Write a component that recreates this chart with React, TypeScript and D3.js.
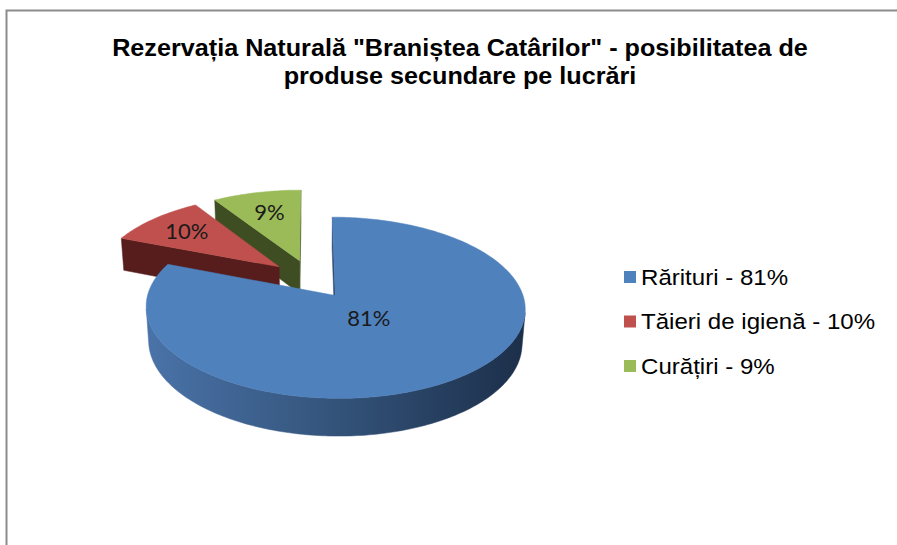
import React from 'react';
import * as d3 from 'd3';

// ---------- data ----------
const categories = ['Rărituri', 'Tăieri de igienă', 'Curățiri'];
const values = [81, 10, 9];
const valueLabels = ['81%', '10%', '9%'];
const legendLabels = ['Rărituri - 81%', 'Tăieri de igienă - 10%', 'Curățiri - 9%'];
const titleLines = [
  'Rezervația Naturală "Braniștea Catârilor" - posibilitatea de',
  'produse secundare pe lucrări',
];

// ---------- style ----------
const W = 897;
const H = 545;
const topColors = ['#4F81BD', '#C0504D', '#9BBB59'];
const cutColors = ['#2d4a74', '#561d1c', '#3f4e22'];
const wallStops = [
  ['#4a73a9', '#36577f', '#1c2f4a'],
  ['#8a3836', '#6a2624', '#4a1817'],
  ['#6f8740', '#56692f', '#3a4720'],
];
const labelRadius = [0.3, 0.72, 0.68];

// 3D projection parameters (unit radius pie)
const cx = 311;
const cy = 279;
const f = 1230;
const D = 6.72;
const elev = (27.5 * Math.PI) / 180;
const sE = Math.sin(elev);
const cE = Math.cos(elev);
const thick = 0.21;
const explode = 0.23;

function project(X: number, Y: number, Z: number): [number, number, number] {
  const yc = Y * cE + Z * sE;
  const dep = Z * cE - Y * sE;
  const w = f / (D + dep);
  return [cx + X * w, cy - yc * w, dep];
}
const cam = [0, D * sE, -D * cE];

export default function App() {
  const pie = d3
    .pie<number>()
    .sort(null)
    .value((d) => d)
    .startAngle(0)
    .endAngle(2 * Math.PI);
  const arcs = pie(values);

  type Poly = { d: string; fill: string; depth: number };
  const walls: Poly[] = [];
  const tops: Poly[] = [];
  const labels: { x: number; y: number; t: string }[] = [];

  const line = d3.line();

  arcs.forEach((a, i) => {
    const mid = (a.startAngle + a.endAngle) / 2;
    const ox = explode * Math.sin(mid);
    const oz = explode * Math.cos(mid);
    const rim = (t: number, Y: number) => project(ox + Math.sin(t), Y, oz + Math.cos(t));
    const apex = (Y: number) => project(ox, Y, oz);
    const n = Math.max(4, Math.ceil(((a.endAngle - a.startAngle) * 180) / Math.PI));
    const ts = d3.range(n + 1).map((j) => a.startAngle + ((a.endAngle - a.startAngle) * j) / n);

    // top face
    const topPts = [apex(0), ...ts.map((t) => rim(t, 0))];
    tops.push({
      d: line(topPts.map((p) => [p[0], p[1]]))! + 'Z',
      fill: topColors[i],
      depth: d3.mean(topPts, (p) => p[2])!,
    });

    // outer wall: visible runs
    let run: number[] = [];
    const flush = () => {
      if (run.length > 1) {
        const up = run.map((t) => rim(t, 0));
        const dn = run.map((t) => rim(t, -thick)).reverse();
        const pts = [...up, ...dn];
        walls.push({
          d: line(pts.map((p) => [p[0], p[1]]))! + 'Z',
          fill: `url(#wall${i})`,
          depth: d3.mean(pts, (p) => p[2])!,
        });
      }
      run = [];
    };
    for (let j = 0; j < n; j++) {
      const tm = (ts[j] + ts[j + 1]) / 2;
      const px = ox + Math.sin(tm);
      const pz = oz + Math.cos(tm);
      const dot = Math.sin(tm) * (cam[0] - px) + Math.cos(tm) * (cam[2] - pz);
      if (dot > 0) {
        if (run.length === 0) run.push(ts[j]);
        run.push(ts[j + 1]);
      } else flush();
    }
    flush();

    // radial cut faces
    const cut = (t: number, sign: number) => {
      const nx = sign * Math.cos(t);
      const nz = -sign * Math.sin(t);
      const px = ox + 0.5 * Math.sin(t);
      const pz = oz + 0.5 * Math.cos(t);
      const dot = nx * (cam[0] - px) + nz * (cam[2] - pz);
      if (dot <= 0) return;
      const pts = [apex(0), rim(t, 0), rim(t, -thick), apex(-thick)];
      walls.push({
        d: line(pts.map((p) => [p[0], p[1]]))! + 'Z',
        fill: cutColors[i],
        depth: d3.mean(pts, (p) => p[2])!,
      });
    };
    cut(a.startAngle, -1);
    cut(a.endAngle, 1);

    const lr = labelRadius[i];
    const lp = project(ox + lr * Math.sin(mid), 0, oz + lr * Math.cos(mid));
    labels.push({ x: lp[0], y: lp[1], t: valueLabels[i] });
  });

  walls.sort((p, q) => q.depth - p.depth);
  tops.sort((p, q) => q.depth - p.depth);

  const legendY = d3.scalePoint<string>().domain(categories).range([277, 366]);

  return (
    <svg width={W} height={H} style={{ position: 'absolute', left: 0, top: 0, background: '#fff' }}>
      <defs>
        {wallStops.map((st, i) => (
          <linearGradient key={i} id={`wall${i}`} gradientUnits="userSpaceOnUse" x1={145} x2={525} y1={0} y2={0}>
            <stop offset="0" stopColor={st[0]} />
            <stop offset="0.45" stopColor={st[1]} />
            <stop offset="1" stopColor={st[2]} />
          </linearGradient>
        ))}
      </defs>
      <rect x={0} y={0} width={W} height={H} fill="#fff" />
      <path d={`M6.5,${H} V10.5 H${W}`} fill="none" stroke="#8c8c8c" strokeWidth={2} />

      {titleLines.map((t, i) => (
        <text
          key={i}
          transform={`translate(460,${56 + i * 28}) scale(1.05,1)`}
          textAnchor="middle"
          fontFamily="Liberation Sans, Arial, sans-serif"
          fontWeight="bold"
          fontSize={24}
          fill="#000"
        >
          {t}
        </text>
      ))}

      {walls.map((p, i) => (
        <path key={'w' + i} d={p.d} fill={p.fill} stroke={p.fill} strokeWidth={0.5} />
      ))}
      {tops.map((p, i) => (
        <path key={'t' + i} d={p.d} fill={p.fill} stroke={p.fill} strokeWidth={0.5} />
      ))}

      {labels.map((l, i) => (
        <text
          key={'l' + i}
          x={l.x}
          y={l.y}
          dy="0.35em"
          textAnchor="middle"
          fontFamily="Lato, Carlito, sans-serif"
          fontSize={22}
          fill="#1a1a1a"
        >
          {l.t}
        </text>
      ))}

      {categories.map((c, i) => (
        <g key={'g' + i} transform={`translate(624,${legendY(c)})`}>
          <rect x={0} y={-6} width={12} height={12} fill={topColors[i]} />
          <text
            transform="translate(17,0) scale(1.12,1)"
            dy="0.35em"
            fontFamily="Liberation Sans, Arial, sans-serif"
            fontSize={21.5}
            fill="#000"
          >
            {legendLabels[i]}
          </text>
        </g>
      ))}
    </svg>
  );
}
